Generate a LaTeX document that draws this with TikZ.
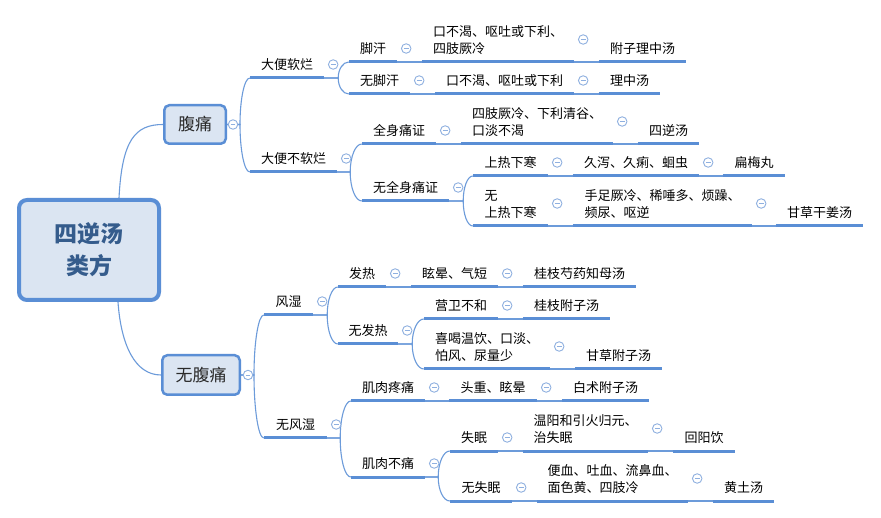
\documentclass[tikz,border=0pt]{standalone}
\usepackage{fontspec}
\setmainfont{Noto Sans CJK SC}
\usetikzlibrary{calc,backgrounds}
\definecolor{ln}{HTML}{5A8ED5}
\definecolor{cn}{HTML}{6C9BDA}
\definecolor{cc}{HTML}{8FB0E0}
\definecolor{bx}{HTML}{DBE5F2}
\definecolor{rt}{HTML}{355C8C}
\definecolor{tx}{HTML}{2A2A2A}
\newcommand\tbx[1]{\begin{tabular}[b]{@{}l@{}}#1\end{tabular}}
\newcommand\tpc[5]{\node[topic, minimum width={(#3-#2)*1pt}] (#1) at ({(#2+#3)/2},#4) {\tbx{#5}};
  \draw[uline] (#1.south west) -- (#1.south east);}
\newcommand\clps[3]{\node[coll] (#1) at ([shift={(9,-#3)}]#2.south east) {};}
\newcommand\fk[3]{\draw[conn] let \p1=([xshift=#3]#1), \p2=(#2.south west) in (#1) -- (\p1) .. controls ($(\p1)!0.55!(\x1,\y2)$) and ($(\p2)!0.55!(\x1,\y2)$) .. (\p2);}
\newcommand\chn[2]{\draw[conn] (#1.south east) -- (#2.south west);}
\tikzset{
  topic/.style={inner xsep=0pt, inner ysep=8.5pt, text depth=0pt, anchor=south, font=\fontsize{13}{17}\selectfont},
  uline/.style={draw=ln, line width=3pt},
  conn/.style={draw=cn, line width=1.1pt},
  coll/.style={circle, draw=cc, fill=white, line width=0.9pt, minimum size=9.5pt, inner sep=0pt,
    path picture={\draw[cc, line width=0.9pt] ([xshift=-2.4pt]path picture bounding box.center) -- ([xshift=2.4pt]path picture bounding box.center);}},
  box/.style={draw=ln, fill=bx, line width=2.5pt, rounded corners=5pt, inner sep=0pt, text=tx, font=\fontsize{17}{20}\selectfont},
  rootbox/.style={draw=ln, fill=bx, line width=4pt, rounded corners=8pt, inner sep=0pt, text=rt, align=center, font=\fontsize{23}{32}\selectfont\bfseries}
}
\begin{document}
\begin{tikzpicture}[x=1pt,y=-1pt]
\useasboundingbox (0,0) rectangle (881,518);
% boxes
\node[rootbox, minimum width=140pt, minimum height=100pt] (root) at (89,250) {四逆汤\\类方};
\node[box, minimum width=61.5pt, minimum height=38.5pt] (fu) at (195,124.5) {腹痛};
\node[box, minimum width=77.5pt, minimum height=39.5pt] (wf) at (201,375) {无腹痛};
\node[coll] (cfu) at ([xshift=6pt]fu.east) {};
\node[coll] (cwf) at ([xshift=7pt]wf.east) {};
% upper branch
\tpc{a1}{250}{324}{78}{大便软烂}
\tpc{a2}{250}{337}{172}{大便不软烂}
\tpc{b1}{349}{397}{62}{脚汗}
\tpc{b2}{349}{410}{94}{无脚汗}
\tpc{c1}{422}{574}{62}{口不渴、呕吐或下利、\\四肢厥冷}
\tpc{d1}{599}{686}{62}{附子理中汤}
\tpc{c2}{435}{574}{94}{口不渴、呕吐或下利}
\tpc{d2}{599}{660}{94}{理中汤}
\tpc{b3}{362}{436}{144}{全身痛证}
\tpc{b4}{362}{449}{201}{无全身痛证}
\tpc{c3}{461}{613}{144}{四肢厥冷、下利清谷、\\口淡不渴}
\tpc{d3}{638}{699}{144}{四逆汤}
\tpc{c4}{473}{548}{176}{上热下寒}
\tpc{c5}{473}{548}{226}{无\\上热下寒}
\tpc{d4}{573}{699}{176}{久泻、久痢、蛔虫}
\tpc{e4}{723}{785}{176}{扁梅丸}
\tpc{d5}{573}{752}{226}{手足厥冷、稀唾多、烦躁、\\频尿、呕逆}
\tpc{e5}{776}{863}{226}{甘草干姜汤}
% lower branch
\tpc{f1}{264}{313}{315}{风湿}
\tpc{f2}{264}{327}{438}{无风湿}
\tpc{g1}{338}{386}{287}{发热}
\tpc{g2}{338}{398}{344}{无发热}
\tpc{h1}{411}{498}{287}{眩晕、气短}
\tpc{i1}{523}{636}{287}{桂枝芍药知母汤}
\tpc{h2}{424}{498}{319}{营卫不和}
\tpc{h3}{424}{550}{369}{喜喝温饮、口淡、\\怕风、尿量少}
\tpc{i2}{523}{610}{319}{桂枝附子汤}
\tpc{i3}{575}{662}{369}{甘草附子汤}
\tpc{g3}{351}{425}{401}{肌肉疼痛}
\tpc{g4}{351}{425}{477}{肌肉不痛}
\tpc{h4}{449}{537}{401}{头重、眩晕}
\tpc{i4}{562}{649}{401}{白术附子汤}
\tpc{h5}{450}{498}{451}{失眠}
\tpc{h6}{450}{512}{501}{无失眠}
\tpc{i5}{523}{648}{451}{温阳和引火归元、\\治失眠}
\tpc{j5}{673}{735}{451}{回阳饮}
\tpc{i6}{537}{688}{501}{便血、吐血、流鼻血、\\面色黄、四肢冷}
\tpc{j6}{713}{774}{501}{黄土汤}
% collapse circles
\clps{ka1}{a1}{13.5} \clps{ka2}{a2}{13.5}
\clps{kb1}{b1}{13.5} \clps{kb2}{b2}{13.5} \clps{kb3}{b3}{13.5} \clps{kb4}{b4}{13.5}
\clps{kc1}{c1}{22.5} \clps{kc2}{c2}{13.5} \clps{kc3}{c3}{22.5} \clps{kc4}{c4}{13.5} \clps{kc5}{c5}{22.5}
\clps{kd4}{d4}{13.5} \clps{kd5}{d5}{22.5}
\clps{kf1}{f1}{13.5} \clps{kf2}{f2}{13.5}
\clps{kg1}{g1}{13.5} \clps{kg2}{g2}{13.5} \clps{kg3}{g3}{13.5} \clps{kg4}{g4}{13.5}
\clps{kh1}{h1}{13.5} \clps{kh2}{h2}{13.5} \clps{kh3}{h3}{22.5} \clps{kh4}{h4}{13.5} \clps{kh5}{h5}{13.5} \clps{kh6}{h6}{13.5}
\clps{ki5}{i5}{22.5} \clps{ki6}{i6}{22.5}
% connectors
\begin{pgfonlayer}{background}
\fill[white] (0,0) rectangle (881,518);
\draw[conn] ([xshift=30pt]root.north) .. controls (122,140) and (135,124.5) .. (fu.west);
\draw[conn] ([xshift=29pt]root.south) .. controls (121,345) and (135,375) .. (wf.west);
\fk{fu.east}{a1}{13pt} \fk{fu.east}{a2}{13pt}
\fk{a1.south east}{b1}{14pt} \fk{a1.south east}{b2}{14pt}
\chn{b1}{c1} \chn{c1}{d1} \chn{b2}{c2} \chn{c2}{d2}
\fk{a2.south east}{b3}{13pt} \fk{a2.south east}{b4}{13pt}
\chn{b3}{c3} \chn{c3}{d3}
\fk{b4.south east}{c4}{14pt} \fk{b4.south east}{c5}{14pt}
\chn{c4}{d4} \chn{d4}{e4} \chn{c5}{d5} \chn{d5}{e5}
\fk{wf.east}{f1}{13pt} \fk{wf.east}{f2}{13pt}
\fk{f1.south east}{g1}{14pt} \fk{f1.south east}{g2}{14pt}
\chn{g1}{h1} \chn{h1}{i1}
\fk{g2.south east}{h2}{14pt} \fk{g2.south east}{h3}{14pt}
\chn{h2}{i2} \chn{h3}{i3}
\fk{f2.south east}{g3}{13pt} \fk{f2.south east}{g4}{13pt}
\chn{g3}{h4} \chn{h4}{i4}
\fk{g4.south east}{h5}{13pt} \fk{g4.south east}{h6}{13pt}
\chn{h5}{i5} \chn{i5}{j5} \chn{h6}{i6} \chn{i6}{j6}
\end{pgfonlayer}
\end{tikzpicture}
\end{document}
